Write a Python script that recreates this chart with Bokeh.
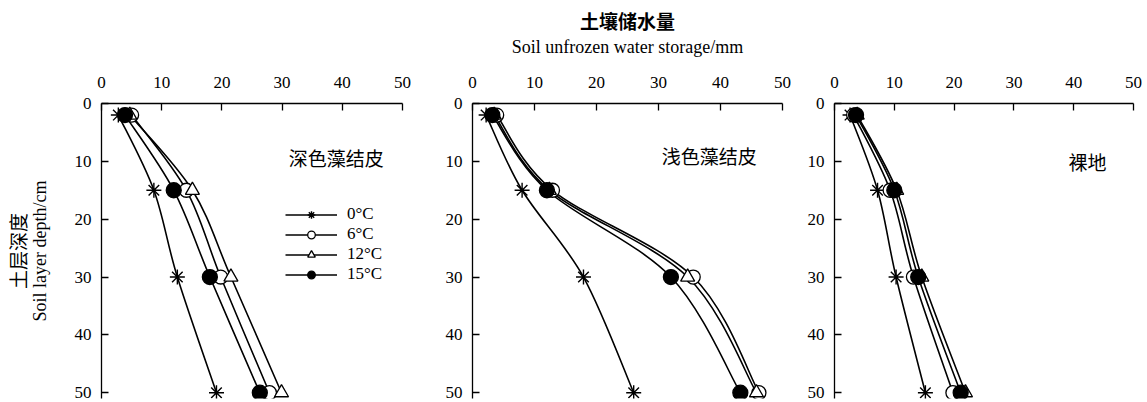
from bokeh.plotting import figure
from bokeh.layouts import row
from bokeh.models import Range1d, LinearAxis, FixedTicker, Legend, LegendItem
from bokeh.core.properties import value
from bokeh.embed import file_html
from bokeh.resources import INLINE

# ---------------- data ----------------
depths = [2, 15, 30, 50]
temps = ["0°C", "6°C", "12°C", "15°C"]
x_ticks = [0, 10, 20, 30, 40, 50]
y_ticks = [0, 10, 20, 30, 40, 50]

panel_names = ["深色藻结皮", "浅色藻结皮", "裸地"]
panel_label_x = [39, 38.2, 42.3]
panel_label_y = [9.4, 9.0, 10.0]

dark_0 = [2.8, 8.7, 12.6, 19.1]
dark_6 = [5.0, 14.1, 19.8, 27.9]
dark_12 = [4.7, 15.1, 21.5, 29.9]
dark_15 = [3.9, 12.0, 18.0, 26.3]

light_0 = [2.2, 8.0, 17.9, 26.0]
light_6 = [3.9, 12.9, 35.6, 46.2]
light_12 = [3.5, 12.4, 34.7, 45.8]
light_15 = [3.2, 12.0, 32.0, 43.2]

bare_0 = [2.6, 7.2, 10.3, 15.2]
bare_6 = [3.2, 9.3, 13.2, 19.8]
bare_12 = [3.8, 10.4, 14.6, 21.9]
bare_15 = [3.6, 10.0, 14.0, 21.1]

panels = [
    [dark_0, dark_6, dark_12, dark_15],
    [light_0, light_6, light_12, light_15],
    [bare_0, bare_6, bare_12, bare_15],
]

# ---------------- styles ----------------
SERIF = "Liberation Serif"
CJK = "Noto Sans CJK SC"
marker_styles = [
    dict(marker="asterisk", size=15, fill_color="black", line_color="black", line_width=1.4),
    dict(marker="circle", size=14, fill_color="white", line_color="black", line_width=1.3),
    dict(marker="triangle", size=14, fill_color="white", line_color="black", line_width=1.3),
    dict(marker="circle", size=15, fill_color="black", line_color="black", line_width=1.3),
]


def bezier_segments(xs, ys):
    """Catmull-Rom style smoothing (Excel-like) expressed as cubic Bezier segments."""
    n = len(xs)
    out = dict(x0=[], y0=[], x1=[], y1=[], cx0=[], cy0=[], cx1=[], cy1=[])
    for i in range(n - 1):
        im1 = max(i - 1, 0)
        ip2 = min(i + 2, n - 1)
        out["x0"].append(xs[i]); out["y0"].append(ys[i])
        out["x1"].append(xs[i + 1]); out["y1"].append(ys[i + 1])
        out["cx0"].append(xs[i] + (xs[i + 1] - xs[im1]) / 6.0)
        out["cy0"].append(ys[i] + (ys[i + 1] - ys[im1]) / 6.0)
        out["cx1"].append(xs[i + 1] - (xs[ip2] - xs[i]) / 6.0)
        out["cy1"].append(ys[i + 1] - (ys[ip2] - ys[i]) / 6.0)
    return out


widths = [417, 377, 353]
left_borders = [101, 55, 40]
right_borders = [15, 12, 14]
H = 402

figs = []
for k in range(3):
    p = figure(
        width=widths[k], height=H,
        x_range=Range1d(0, 50), y_range=Range1d(51.0, 0),
        x_axis_location="above",
        output_backend="svg", toolbar_location=None,
        min_border_left=left_borders[k], min_border_right=right_borders[k],
        min_border_top=103, min_border_bottom=4,
    )
    p.outline_line_color = None
    p.grid.visible = False
    p.background_fill_color = "white"
    p.border_fill_color = "white"

    for ax in [p.xaxis[0], p.yaxis[0]]:
        ax.axis_line_color = "black"
        ax.axis_line_width = 1.3
        ax.major_tick_line_color = "black"
        ax.major_tick_line_width = 1.3
        ax.major_tick_in = 7
        ax.major_tick_out = 0
        ax.minor_tick_line_color = None
        ax.major_label_text_font = SERIF
        ax.major_label_text_font_size = "17px"
        ax.major_label_text_color = "black"
        ax.axis_label_text_font_style = "normal"
        ax.axis_label_text_color = "black"
    p.xaxis[0].ticker = FixedTicker(ticks=x_ticks)
    p.yaxis[0].ticker = FixedTicker(ticks=y_ticks)
    p.xaxis[0].major_label_standoff = 16
    p.yaxis[0].major_label_standoff = 10

    series = panels[k]
    line_rs = []
    for s in series:
        seg = bezier_segments(s, depths)
        r = p.bezier(x0="x0", y0="y0", x1="x1", y1="y1", cx0="cx0", cy0="cy0",
                     cx1="cx1", cy1="cy1", source=seg, line_color="black", line_width=1.6)
        line_rs.append(r)
    mark_rs = []
    for s, st in zip(series, marker_styles):
        r = p.scatter(x=s, y=depths, **st)
        mark_rs.append(r)

    p.text(x=[panel_label_x[k]], y=[panel_label_y[k]], text=[panel_names[k]],
           text_font=value(CJK), text_font_size="19px", text_color="black",
           text_align="center", text_baseline="middle")

    if k == 0:
        p.yaxis[0].axis_label = "Soil layer depth/cm"
        p.yaxis[0].axis_label_text_font = SERIF
        p.yaxis[0].axis_label_text_font_size = "18px"
        p.yaxis[0].axis_label_standoff = 22
        extra = LinearAxis(axis_label="土层深度", ticker=FixedTicker(ticks=[]),
                           axis_line_color=None, major_tick_line_color=None,
                           minor_tick_line_color=None, major_label_text_font_size="0px",
                           major_label_standoff=0, axis_label_standoff=-4,
                           axis_label_text_font=CJK, axis_label_text_font_size="19px",
                           axis_label_text_font_style="normal", axis_label_text_color="black")
        p.add_layout(extra, "left")

        items = [LegendItem(label=t, renderers=[lr, mr]) for t, lr, mr in zip(temps, line_rs, mark_rs)]
        legend = Legend(items=items, location=(184, 114), orientation="vertical",
                        glyph_width=52, glyph_height=19, label_height=19, spacing=0,
                        padding=0, margin=0, label_standoff=10,
                        label_text_font=SERIF, label_text_font_size="17px",
                        label_text_color="black",
                        border_line_color=None, background_fill_alpha=0)
        p.add_layout(legend)

    if k == 1:
        p.xaxis[0].axis_label = "Soil unfrozen water storage/mm"
        p.xaxis[0].axis_label_text_font = SERIF
        p.xaxis[0].axis_label_text_font_size = "18px"
        p.xaxis[0].axis_label_standoff = 17
        extra = LinearAxis(axis_label="土壤储水量", ticker=FixedTicker(ticks=[]),
                           axis_line_color=None, major_tick_line_color=None,
                           minor_tick_line_color=None, major_label_text_font_size="0px",
                           major_label_standoff=0, axis_label_standoff=0,
                           axis_label_text_font=CJK, axis_label_text_font_size="19px",
                           axis_label_text_font_style="bold", axis_label_text_color="black")
        p.add_layout(extra, "above")

    figs.append(p)

layout = row(*figs, spacing=0)
open("out.html", "w").write(file_html(layout, INLINE))
